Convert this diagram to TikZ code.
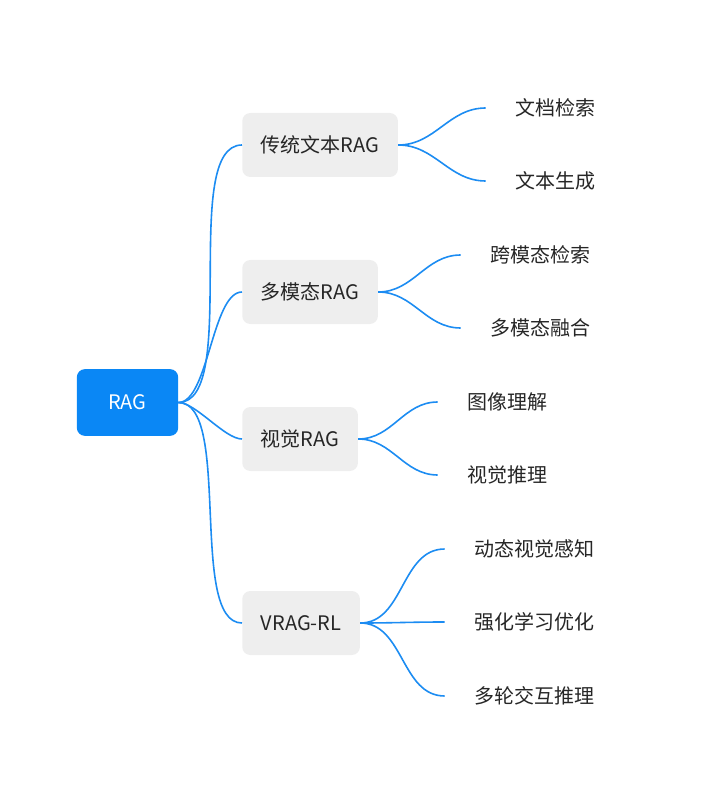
\documentclass[tikz,border=0pt]{standalone}
\usepackage{fontspec}
\setmainfont{Noto Sans CJK SC}
\usetikzlibrary{positioning}
\definecolor{rootblue}{HTML}{0A87F5}
\definecolor{linkblue}{HTML}{1C8CF2}
\definecolor{boxgray}{HTML}{EEEEEE}
\definecolor{txt}{HTML}{262626}
\tikzset{
  rootbox/.style={fill=rootblue,rounded corners=6pt,text=white,font=\fontsize{15}{18}\selectfont,minimum width=76pt,minimum height=50pt},
  topicbox/.style={fill=boxgray,rounded corners=6pt,text=txt,font=\fontsize{15}{18}\selectfont,minimum height=48pt,inner xsep=14pt},
  leaf/.style={text=txt,font=\fontsize{15}{18}\selectfont,anchor=west,inner sep=0pt},
  link/.style={draw=linkblue,line width=1.2pt},
}
\begin{document}
\begin{tikzpicture}[x=0.75pt,y=-0.75pt]
  \useasboundingbox (0,0) rectangle (717,805);

  % root
  \node[rootbox] (rag) at (127.5,402.5) {RAG};

  % topics
  \node[topicbox,anchor=west] (trad) at (242,145) {传统文本RAG};
  \node[topicbox,anchor=west] (multi) at (242,292) {多模态RAG};
  \node[topicbox,anchor=west] (vis) at (242,439) {视觉RAG};
  \node[topicbox,anchor=west] (vrag) at (242,623) {VRAG-RL};

  % leaves
  \node[leaf] (doc) at (515,108) {文档检索};
  \node[leaf] (gen) at (515,181) {文本生成};
  \node[leaf] (cross) at (490,255) {跨模态检索};
  \node[leaf] (fuse) at (490,328) {多模态融合};
  \node[leaf] (img) at (467,402) {图像理解};
  \node[leaf] (reason) at (467,475) {视觉推理};
  \node[leaf] (dyn) at (474,549) {动态视觉感知};
  \node[leaf] (rl) at (474,622) {强化学习优化};
  \node[leaf] (turn) at (474,696) {多轮交互推理};

  % root links
  \foreach \t in {trad,multi,vis,vrag}
    \draw[link] (rag.east) to[out=0,in=180,looseness=0.6] (\t.west);

  % topic links
  \foreach \t/\l in {trad/doc,trad/gen,multi/cross,multi/fuse,vis/img,vis/reason,vrag/dyn,vrag/rl,vrag/turn}
    \draw[link] (\t.east) to[out=0,in=180] ([xshift=-22]\l.west);
\end{tikzpicture}
\end{document}
